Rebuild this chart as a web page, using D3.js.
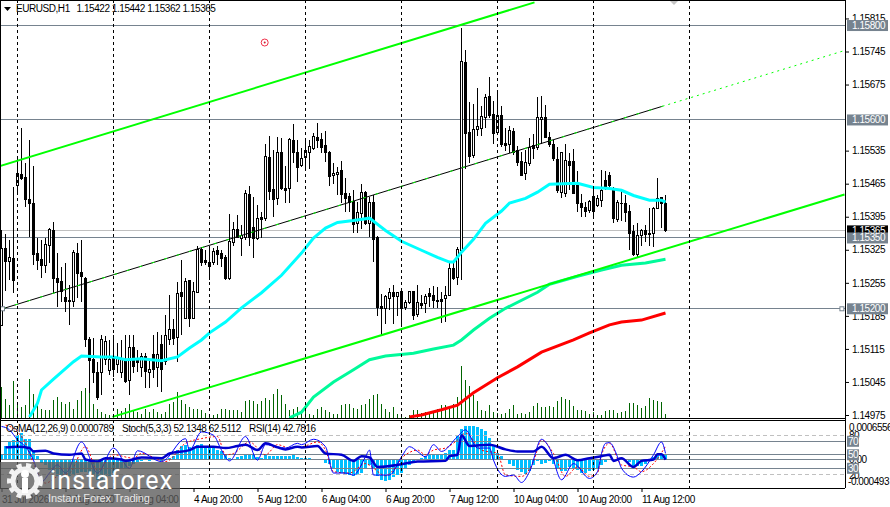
<!DOCTYPE html>
<html>
<head>
<meta charset="utf-8">
<script src="https://d3js.org/d3.v7.min.js"></script>
<style>
  html, body { margin: 0; padding: 0; background: #fff; overflow: hidden; }
  text { font-family: "Liberation Sans", sans-serif; font-size: 10px; letter-spacing: -0.45px; }
  .tick text { fill: #000; }
  .tick line { stroke: #000; }
</style>
</head>
<body>
<div id="chart"></div>
<script>
'use strict';

// EURUSD H1, prices are points above 1.15000 (1 point = 0.00001)
const opens = [165,328,301,307,461,485,478,432,422,318,305,292,334,366,265,257,223,217,215,318,276,265,134,92,65,65,92,69,98,83,65,88,49,119,92,75,98,65,103,75,124,88,134,157,140,234,180,259,180,234,326,303,297,297,324,318,309,265,341,368,349,351,443,372,349,394,392,521,453,434,530,455,455,557,532,503,521,532,540,563,559,546,532,482,485,493,445,438,428,381,402,447,381,426,351,204,200,221,234,225,236,202,213,236,187,211,211,232,229,217,219,221,229,286,267,324,722,574,525,580,582,606,649,612,574,610,550,548,576,536,512,487,508,546,542,602,606,563,548,517,447,445,512,512,465,424,415,409,438,419,430,472,482,451,390,424,424,407,364,314,355,366,360,360,413,436,422];
const highs = [366,358,345,457,519,584,508,557,503,349,345,349,372,383,318,288,297,250,324,339,345,267,140,138,88,144,142,134,144,128,134,144,144,144,113,107,107,92,144,151,144,186,229,178,257,303,265,261,257,332,330,324,334,328,332,324,314,400,383,398,377,451,461,436,419,405,548,567,536,563,561,503,561,591,557,540,557,557,572,593,572,576,534,508,501,512,476,445,451,426,464,449,436,440,355,232,229,244,250,236,238,219,238,238,250,229,232,244,248,246,236,248,297,299,330,795,749,637,633,667,629,656,690,641,662,629,582,587,584,544,532,536,561,570,648,650,631,574,557,542,530,550,530,538,491,443,426,430,455,440,493,491,489,457,430,451,440,419,377,381,370,377,413,415,478,436,442];
const lows = [165,238,261,234,445,472,415,351,292,282,265,276,297,234,204,215,193,165,204,223,215,120,22,43,7,18,81,60,56,65,54,43,18,65,67,56,32,32,54,34,24,81,124,124,88,144,180,161,180,234,290,292,261,292,292,288,261,261,334,349,311,345,334,307,345,349,387,430,394,419,451,424,424,508,468,500,493,497,536,540,530,510,461,465,440,424,405,405,360,360,368,377,351,299,185,144,168,197,168,185,165,197,211,176,182,199,191,204,202,202,170,172,227,261,250,261,497,508,519,567,567,582,604,550,572,542,534,530,525,503,482,472,503,517,536,550,561,542,514,445,434,436,451,443,405,394,394,402,394,415,415,451,455,381,383,387,383,324,311,307,334,341,334,330,411,372,362];
const closes = [328,301,309,259,487,476,432,422,316,303,292,337,368,265,255,236,215,216,320,274,269,134,90,65,13,134,130,92,71,96,92,45,117,77,86,98,67,71,71,103,71,144,157,138,232,225,257,180,236,326,299,297,290,322,316,307,265,343,368,351,355,445,351,349,392,390,523,449,432,532,455,451,559,530,500,519,536,544,565,557,542,532,480,487,489,443,434,426,379,405,447,381,426,347,202,200,225,234,225,234,200,213,236,185,213,208,227,227,217,215,215,229,286,265,326,724,572,523,580,587,608,647,610,572,610,548,546,578,530,510,482,510,542,540,606,606,563,548,519,451,530,514,503,445,424,415,407,428,407,434,451,457,461,392,426,422,405,360,316,355,366,358,358,413,434,422,365];
// tick volume
const volumes = [31,19,13,37,14,11,13,39,24,16,9,8,8,18,21,16,14,16,9,18,27,30,25,14,9,6,4,3,2,9,7,10,14,8,6,4,9,6,9,6,4,6,14,16,26,18,14,11,9,9,8,5,3,3,4,9,9,8,8,8,6,17,18,17,14,17,20,18,24,29,23,14,8,9,11,8,13,4,3,9,11,8,6,4,4,13,14,14,10,9,13,14,19,23,24,14,9,6,11,4,3,1,3,8,8,5,6,6,7,9,13,13,11,14,21,52,38,32,23,17,8,7,13,6,5,4,5,9,13,4,5,4,6,12,15,11,11,12,11,17,21,19,18,12,8,8,7,4,6,3,3,7,8,8,5,6,7,15,15,13,10,12,20,18,17,16,4];

// moving averages, read at these bars only
const cyanBars = [7,9,10,13,15,18,20,25,28,31,35,40,44,47,50,52,56,60,65,70,75,78,81,84,88,92,96,100,105,109,112,113,115,118,121,125,127,131,134,137,144,148,152,155,158,162,165,166];
const cyanValues = [-29,0,28,51,66,88,100,98,98,92,94,90,98,117,134,149,172,202,234,271,318,350,371,383,387,392,366,343,324,309,299,299,320,347,381,407,424,434,447,464,466,457,455,451,440,430,430,426];
const springBars = [72,75,78,83,88,92,96,103,108,113,115,118,122,126,134,137,144,150,155,161,166];
const springValues = [-31,-19,13,45,71,92,100,106,115,123,134,155,180,201,235,252,269,282,292,297,305];
const redBars = [102,105,110,114,118,124,129,135,143,147,152,155,160,166];
const redValues = [-29,-25,-14,-4,22,54,77,108,134,149,166,172,176,191];

// channel lines
const upperChannelBars = [-0.5,133.25];
const upperChannelValues = [502,849];
const lowerChannelBars = [27.75,210.75];
const lowerChannelValues = [-29,442];
const midChannelBars = [0.25,165.25];
const midChannelValues = [200,629];
const midRayBars = [165.25,210.75];
const midRayValues = [629,747];

// horizontal levels with their tags on the price axis
const levelPrices = [1.158,1.156,1.1535,1.152];
const currentPrice = 1.15365;
const priceTicks = [1.15815,1.15745,1.15675,1.15535,1.15465,1.15395,1.15325,1.15255,1.15185,1.15115,1.15045,1.14975];

// time axis
const timeTickBars = [0,16,32,48,64,80,96,112,128,144,160];
const timeLabels = ['31 Jul 2026','3 Aug 12:00','4 Aug 04:00','4 Aug 20:00','5 Aug 12:00','6 Aug 04:00','6 Aug 20:00','7 Aug 12:00','10 Aug 04:00','10 Aug 20:00','11 Aug 12:00'];
const gridBars = [4,28,52,76,100,124,148,172];

// lower window: OsMA histogram, in millionths
const osma = [68,221,306,323,408,442,340,340,153,51,-68,-102,-187,-238,-289,-323,-323,-289,-272,-238,-221,-221,-238,-289,-357,-357,-323,-289,-238,-204,-153,-153,-119,-85,-51,-34,-17,-34,-17,-17,-34,-17,17,51,153,221,238,204,204,238,255,221,204,204,153,136,68,17,0,34,51,68,68,68,34,17,68,51,51,51,51,51,51,68,34,17,17,17,0,-17,-17,-68,-85,-153,-221,-238,-255,-272,-289,-272,-238,-153,-102,-153,-289,-357,-374,-357,-306,-272,-238,-153,-102,-68,-17,17,51,68,68,68,68,102,153,153,408,510,578,578,578,561,510,476,357,221,102,51,0,-85,-119,-187,-221,-255,-204,-102,-34,-85,-68,-34,-85,-153,-204,-204,-136,-153,-187,-238,-238,-204,-187,-153,-102,-51,-17,0,-17,-17,-17,-51,-119,-119,-119,-85,-34,34,68,68,79];
const rsiBars = [1,4,7,8,11,13,17,20,21,24,26,30,31,35,40,42,47,49,53,56,59,61,64,66,69,71,74,75,79,81,85,88,90,92,94,100,104,111,112,114,115,117,122,126,129,133,135,138,141,144,147,150,152,153,155,158,160,163,164,165,166];
const rsiValues = [61,62,60,55,56,52,50,52,43,40,45,43,41,46,45,52,57,62,62,60,63,65,57,67,61,58,62,61,63,52,50,41,48,46,32,36,40,41,48,50,79,63,65,58,55,55,62,45,50,42,45,48,50,41,45,32,41,43,51,51,42.78];
const stochBars = [0,2,4,6,8,10,12,14,16,20,24,28,32,34,40,46,47,50,53,55,57,61,64,66,69,71,74,75,78,81,83,86,88,91,92,93,97,100,102,104,106,108,110,114,116,119,122,123,126,128,130,132,135,137,140,143,147,149,150,151,152,154,155,158,160,163,165,166];
const stochValues = [92,87,72,62,42,10,23,35,23,69,23,60,30,56,40,74,57,84,79,57,41,77,42,65,62,60,67,65,73,62,23,23,20,47,57,20,20,47,62,55,47,65,55,77,87,60,60,42,18,20,9,25,73,60,13,37,15,25,52,67,68,47,30,17,25,50,69,52.13];
const signalBars = [1,3,6,8,11,14,17,21,24,28,33,35,41,46,50,54,56,58,62,66,69,72,74,75,79,81,83,87,91,93,96,101,104,106,108,111,114,116,120,124,126,130,133,135,138,141,144,147,149,150,152,155,158,160,163,166];
const signalValues = [94,89,67,37,8,18,23,62,27,50,45,52,40,67,74,77,50,52,69,50,65,60,62,62,69,57,25,23,37,30,19,50,57,50,57,60,72,82,57,52,20,18,40,72,52,18,32,18,23,50,67,35,32,25,37,62.51];
const stochLevels = [80,20];
const indicatorLevels = [70,50,30];
const osmaAxisLabels = ['0.0006556','-0.000493'];

const BASE = 1.15;
const POINT = 0.00001;
const toPrice = v => BASE + v * POINT;

const width = 890;
const height = 507;
const paneRight = 845;
const mainBottom = 418;
const subTop = 421;
const subBottom = 488;
const levelColor = '#76838f';

const x = d3.scaleLinear().domain([0, 166]).range([1.5, 665.5]);
const y = d3.scaleLinear().domain([1.14975, 1.15745]).range([415, 51.5]);
const yVolume = d3.scaleLinear().domain([0, 100]).range([mainBottom, mainBottom - 100]);
const yOsma = d3.scaleLinear().domain([-0.000493, 0.0006556]).range([subBottom, subTop]);
const yOsc = d3.scaleLinear().domain([30, 70]).range([468.3, 441.3]);

const svg = d3.select('#chart').append('svg')
  .attr('width', width)
  .attr('height', height)
  .style('display', 'block');

svg.append('clipPath').attr('id', 'clipMain').append('rect')
  .attr('x', 1).attr('y', 1).attr('width', paneRight - 1).attr('height', mainBottom - 1);
svg.append('clipPath').attr('id', 'clipSub').append('rect')
  .attr('x', 1).attr('y', subTop).attr('width', paneRight - 1).attr('height', subBottom - subTop);

const main = svg.append('g').attr('clip-path', 'url(#clipMain)');
const sub = svg.append('g').attr('clip-path', 'url(#clipSub)');

// vertical grid runs through both windows
svg.append('g').selectAll('line')
  .data(gridBars)
  .enter()
  .append('line')
  .attr('x1', d => x(d))
  .attr('x2', d => x(d))
  .attr('y1', 0)
  .attr('y2', subBottom)
  .attr('stroke', '#000')
  .attr('stroke-dasharray', '3,3')
  .attr('shape-rendering', 'crispEdges');

// levels
main.selectAll('.level')
  .data(levelPrices)
  .enter()
  .append('line')
  .attr('class', 'level')
  .attr('x1', 0)
  .attr('x2', paneRight)
  .attr('y1', d => y(d))
  .attr('y2', d => y(d))
  .attr('stroke', levelColor)
  .attr('shape-rendering', 'crispEdges');

main.append('line')
  .attr('x1', 0)
  .attr('x2', paneRight)
  .attr('y1', y(currentPrice))
  .attr('y2', y(currentPrice))
  .attr('stroke', '#c0c0c0')
  .attr('shape-rendering', 'crispEdges');

// volume
main.selectAll('.vol')
  .data(volumes)
  .enter()
  .append('line')
  .attr('class', 'vol')
  .attr('x1', (d, i) => x(i))
  .attr('x2', (d, i) => x(i))
  .attr('y1', d => yVolume(d))
  .attr('y2', mainBottom)
  .attr('stroke', '#006400')
  .attr('shape-rendering', 'crispEdges');

// candles
const candle = main.selectAll('.candle')
  .data(opens)
  .enter()
  .append('g')
  .attr('class', 'candle')
  .attr('shape-rendering', 'crispEdges');

candle.append('line')
  .attr('x1', (d, i) => x(i))
  .attr('x2', (d, i) => x(i))
  .attr('y1', (d, i) => y(toPrice(highs[i])))
  .attr('y2', (d, i) => y(toPrice(lows[i])))
  .attr('stroke', '#000');

candle.append('rect')
  .attr('x', (d, i) => x(i) - 1)
  .attr('width', 2)
  .attr('y', (d, i) => y(toPrice(Math.max(d, closes[i]))))
  .attr('height', (d, i) => Math.abs(y(toPrice(d)) - y(toPrice(closes[i]))))
  .attr('fill', (d, i) => closes[i] > d ? '#fff' : '#000')
  .attr('stroke', '#000');

const priceLine = d3.line()
  .x(d => x(d[0]))
  .y(d => y(toPrice(d[1])));

function drawPriceLine(bars, values, color, lineWidth, dash) {
  main.append('path')
    .attr('d', priceLine(bars.map((b, i) => [b, values[i]])))
    .attr('fill', 'none')
    .attr('stroke', color)
    .attr('stroke-width', lineWidth)
    .attr('stroke-dasharray', dash || null);
}

drawPriceLine(redBars, redValues, '#ff0000', 3);
drawPriceLine(springBars, springValues, '#00fa9a', 3);
drawPriceLine(cyanBars, cyanValues, '#00ffff', 3);
drawPriceLine(upperChannelBars, upperChannelValues, '#00ff00', 2);
drawPriceLine(lowerChannelBars, lowerChannelValues, '#00ff00', 2);
drawPriceLine(midChannelBars, midChannelValues, '#000', 1);
drawPriceLine(midChannelBars, midChannelValues, '#00ff00', 1, '3,10');
drawPriceLine(midRayBars, midRayValues, '#00ff00', 1, '2,4');

// end points of the objects
const endSquares = [[x(0.25), y(toPrice(200))], [x(210.1), y(1.152)]];
main.selectAll('.anchor')
  .data(endSquares)
  .enter()
  .append('rect')
  .attr('class', 'anchor')
  .attr('x', d => d[0] - 2)
  .attr('y', d => d[1] - 2)
  .attr('width', 4)
  .attr('height', 4)
  .attr('fill', '#fff')
  .attr('stroke', levelColor);

// target mark and the small gray arrow on top
main.append('circle').attr('cx', x(65.8)).attr('cy', y(1.15764)).attr('r', 3.5)
  .attr('fill', '#fff').attr('stroke', '#f0304a').attr('stroke-width', 1);
main.append('circle').attr('cx', x(65.8)).attr('cy', y(1.15764)).attr('r', 1)
  .attr('fill', '#d02030');
main.append('path').attr('d', 'M669,0L679,0L674,5Z').attr('fill', '#c4c4c4');

// lower window
sub.selectAll('.osma')
  .data(osma)
  .enter()
  .append('rect')
  .attr('class', 'osma')
  .attr('x', (d, i) => x(i) - 1.5)
  .attr('width', 3)
  .attr('y', d => Math.min(yOsma(d * 1e-6), yOsma(0)))
  .attr('height', d => Math.abs(yOsma(d * 1e-6) - yOsma(0)))
  .attr('fill', '#00bfff')
  .attr('shape-rendering', 'crispEdges');

sub.selectAll('.stochLevel')
  .data(stochLevels)
  .enter()
  .append('line')
  .attr('class', 'stochLevel')
  .attr('x1', 0)
  .attr('x2', paneRight)
  .attr('y1', d => yOsc(d) + (d > 50 ? 1 : -1))
  .attr('y2', d => yOsc(d) + (d > 50 ? 1 : -1))
  .attr('stroke', '#c0c0c0')
  .attr('stroke-dasharray', '4,3')
  .attr('shape-rendering', 'crispEdges');

sub.selectAll('.oscLevel')
  .data(indicatorLevels)
  .enter()
  .append('line')
  .attr('class', 'oscLevel')
  .attr('x1', 0)
  .attr('x2', paneRight)
  .attr('y1', d => yOsc(d))
  .attr('y2', d => yOsc(d))
  .attr('stroke', levelColor)
  .attr('shape-rendering', 'crispEdges');

sub.append('line')
  .attr('x1', 0)
  .attr('x2', paneRight)
  .attr('y1', yOsma(0))
  .attr('y2', yOsma(0))
  .attr('stroke', levelColor)
  .attr('shape-rendering', 'crispEdges');

function drawOscLine(bars, values, color, lineWidth, dash) {
  const line = d3.line()
    .x(d => x(d[0]))
    .y(d => yOsc(d[1]))
    .curve(d3.curveMonotoneX);
  sub.append('path')
    .attr('d', line(bars.map((b, i) => [b, values[i]])))
    .attr('fill', 'none')
    .attr('stroke', color)
    .attr('stroke-width', lineWidth)
    .attr('stroke-dasharray', dash || null);
}

drawOscLine(signalBars, signalValues, '#ff0000', 1, '2,2');
drawOscLine(stochBars, stochValues, '#0000ff', 1);
drawOscLine(rsiBars, rsiValues, '#0000cd', 2.5);

// window frames
const frame = svg.append('g').attr('shape-rendering', 'crispEdges').attr('stroke', '#000');
frame.append('line').attr('x1', 0).attr('x2', paneRight).attr('y1', 0.5).attr('y2', 0.5);
frame.append('line').attr('x1', 0.5).attr('x2', 0.5).attr('y1', 0).attr('y2', subBottom);
frame.append('line').attr('x1', paneRight + 0.5).attr('x2', paneRight + 0.5).attr('y1', 0).attr('y2', subBottom);
frame.append('line').attr('x1', 0).attr('x2', paneRight).attr('y1', mainBottom + 0.5).attr('y2', mainBottom + 0.5);
frame.append('line').attr('x1', 0).attr('x2', paneRight).attr('y1', subTop - 0.5).attr('y2', subTop - 0.5);
frame.append('line').attr('x1', 0).attr('x2', paneRight).attr('y1', subBottom + 0.5).attr('y2', subBottom + 0.5);

// price axis
const priceAxis = d3.axisRight(y)
  .tickValues(priceTicks)
  .tickFormat(d3.format('.5f'))
  .tickSize(3)
  .tickPadding(3);

const priceAxisG = svg.append('g')
  .attr('transform', `translate(${paneRight + 1}, 0)`)
  .call(priceAxis);
priceAxisG.select('.domain').remove();

// tags on the price axis, current price first so that 1.15350 covers it
function drawTag(price, fill) {
  const tag = svg.append('g').attr('transform', `translate(847, ${y(price)})`);
  tag.append('rect')
    .attr('x', 0)
    .attr('y', -5.5)
    .attr('width', 41)
    .attr('height', 11)
    .attr('fill', fill);
  tag.append('text')
    .attr('x', 5)
    .attr('y', 3.5)
    .attr('fill', '#fff')
    .text(d3.format('.5f')(price));
}

drawTag(currentPrice, '#000');
levelPrices.forEach(p => drawTag(p, levelColor));

// time axis
const timeAxis = d3.axisBottom(x)
  .tickValues(timeTickBars)
  .tickFormat((d, i) => timeLabels[i])
  .tickSize(3)
  .tickPadding(4);

const timeAxisG = svg.append('g')
  .attr('transform', `translate(0, ${subBottom + 1})`)
  .call(timeAxis);
timeAxisG.select('.domain').remove();
timeAxisG.selectAll('text').attr('text-anchor', 'start').attr('font-size', null);

// right labels of the lower window
svg.append('text').attr('x', 849).attr('y', 431).attr('fill', '#000').text(osmaAxisLabels[0]);
svg.append('text').attr('x', 848).attr('y', 485).attr('fill', '#000').text(osmaAxisLabels[1]);
svg.append('text').attr('x', 849).attr('y', yOsc(80) + 4).attr('fill', '#000').text('80');
svg.append('text').attr('x', 849).attr('y', yOsc(20) + 4).attr('fill', '#000').text('20');
svg.append('text').attr('x', 849).attr('y', yOsma(0) + 3.5).attr('fill', '#000').text('0.00');

indicatorLevels.forEach(level => {
  const tag = svg.append('g').attr('transform', `translate(847, ${yOsc(level)})`);
  tag.append('rect').attr('y', -5.5).attr('width', 12).attr('height', 11).attr('fill', levelColor);
  tag.append('text').attr('x', 1).attr('y', 3.5).attr('fill', '#fff').text(level);
});

// headers
svg.append('path').attr('d', 'M4,7L11,7L7.5,11Z').attr('fill', '#000');
svg.append('text').attr('x', 16).attr('y', 12).attr('fill', '#000').text('EURUSD,H1');
svg.append('text').attr('x', 76.5).attr('y', 12).attr('fill', '#000').text('1.15422 1.15442 1.15362 1.15365');
svg.append('text').attr('x', 6).attr('y', 432).attr('fill', '#000')
  .text('OsMA(12,26,9) 0.0000789');
svg.append('text').attr('x', 122).attr('y', 432).attr('fill', '#000')
  .text('Stoch(5,3,3) 52.1348 62.5112');
svg.append('text').attr('x', 249).attr('y', 432).attr('fill', '#000')
  .text('RSI(14) 42.7816');

// broker logo over the corner
const logo = svg.append('g');
logo.append('rect')
  .attr('x', 0).attr('y', 462).attr('width', 180).attr('height', 45)
  .attr('fill', '#5a5a5a').attr('fill-opacity', 0.78);
logo.append('circle').attr('cx', 25).attr('cy', 481).attr('r', 12)
  .attr('fill', 'none').attr('stroke', '#fff').attr('stroke-width', 5).attr('stroke-opacity', 0.9);
logo.append('circle').attr('cx', 25).attr('cy', 481).attr('r', 16)
  .attr('fill', 'none').attr('stroke', '#fff').attr('stroke-width', 4)
  .attr('stroke-dasharray', '5,4.5').attr('stroke-opacity', 0.9);
logo.append('circle').attr('cx', 25).attr('cy', 474).attr('r', 4).attr('fill', '#fff');
logo.append('rect').attr('x', 22).attr('y', 478).attr('width', 6).attr('height', 15).attr('fill', '#fff');
logo.append('text')
  .attr('x', 50).attr('y', 489).attr('fill', '#fff')
  .style('font-family', 'Roboto, sans-serif')
  .style('font-size', '25px').style('letter-spacing', '1.2px')
  .text('instaforex');
logo.append('text')
  .attr('x', 48).attr('y', 502).attr('fill', '#e8e8e8')
  .style('font-size', '11px').style('letter-spacing', '-0.1px')
  .text('Instant Forex Trading');
</script>
</body>
</html>
